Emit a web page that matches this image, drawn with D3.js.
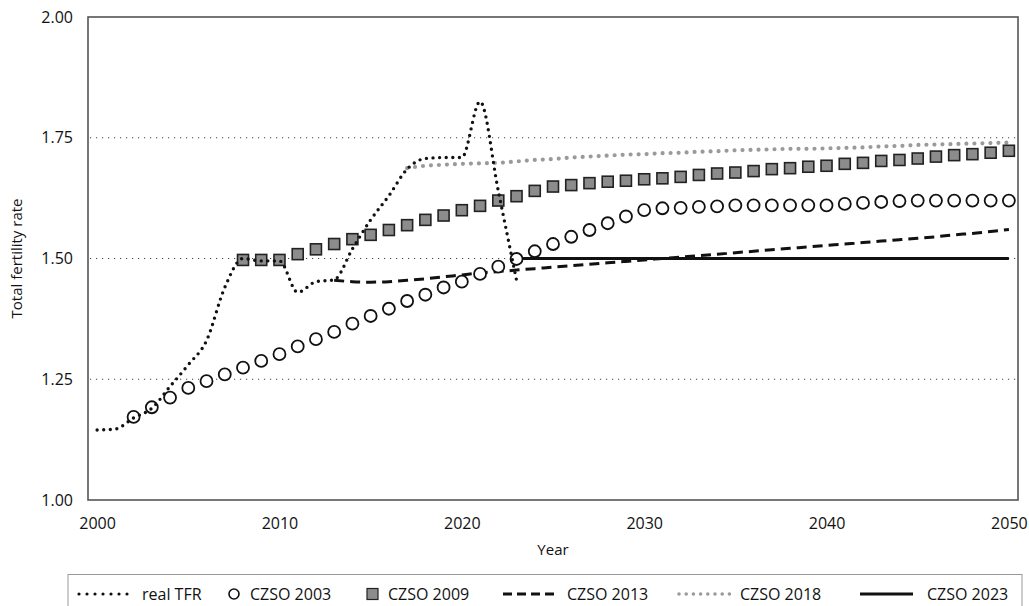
<!DOCTYPE html>
<html>
<head>
<meta charset="utf-8">
<script src="https://cdn.jsdelivr.net/npm/d3@7"></script>
<style>
  html, body { margin: 0; padding: 0; background: #fff; }
  svg { display: block; font-family: "Open Sans", "Noto Sans", sans-serif; }
</style>
</head>
<body>
<svg id="chart" width="1029" height="606"></svg>
<script>
// Years on the horizontal axis
const years = d3.range(2000, 2051);
const xTickYears = [2000, 2010, 2020, 2030, 2040, 2050];
const yTickValues = [1.00, 1.25, 1.50, 1.75, 2.00];

// Observed total fertility rate, 2000-2023
const realStart = 2000;
const realTFR = [1.145, 1.147, 1.17, 1.19, 1.235, 1.28, 1.33, 1.44, 1.50, 1.495,
                 1.495, 1.43, 1.452, 1.456, 1.52, 1.58, 1.63, 1.685, 1.707, 1.709,
                 1.709, 1.825, 1.64, 1.455];

// CZSO projection 2003, 2002-2050
const czso2003Start = 2002;
const czso2003 = [1.172, 1.192, 1.212, 1.232, 1.246, 1.26, 1.274, 1.288, 1.302,
                  1.318, 1.333, 1.348, 1.365, 1.381, 1.396, 1.412, 1.425, 1.44, 1.452,
                  1.468, 1.483, 1.499, 1.515, 1.53, 1.545, 1.559, 1.573, 1.587, 1.600,
                  1.604, 1.605, 1.607, 1.608, 1.61, 1.61, 1.61, 1.61, 1.61, 1.61,
                  1.613, 1.615, 1.617, 1.619, 1.62, 1.62, 1.62, 1.62, 1.62, 1.62];

// CZSO projection 2009, 2008-2050
const czso2009Start = 2008;
const czso2009 = [1.497, 1.497, 1.497, 1.509, 1.519, 1.53, 1.54, 1.549, 1.559, 1.569,
                  1.58, 1.589, 1.60, 1.609, 1.62, 1.629, 1.64, 1.649, 1.652, 1.656,
                  1.659, 1.661, 1.664, 1.666, 1.669, 1.673, 1.676, 1.678, 1.681, 1.685,
                  1.687, 1.69, 1.692, 1.696, 1.698, 1.702, 1.704, 1.707, 1.711, 1.714,
                  1.716, 1.719, 1.723];

// CZSO projection 2013, 2013-2050
const czso2013Start = 2013;
const czso2013 = [1.455, 1.452, 1.451, 1.452, 1.455, 1.458, 1.462, 1.466, 1.470, 1.473,
                  1.476, 1.479, 1.482, 1.485, 1.488, 1.491, 1.494, 1.497, 1.500, 1.503,
                  1.506, 1.509, 1.512, 1.515, 1.518, 1.521, 1.524, 1.527, 1.530, 1.533,
                  1.536, 1.539, 1.542, 1.545, 1.549, 1.552, 1.556, 1.560];

// CZSO projection 2018, 2017-2050
const czso2018Start = 2017;
const czso2018 = [1.687, 1.692, 1.694, 1.696, 1.697, 1.698, 1.701, 1.704, 1.706, 1.709,
                  1.711, 1.713, 1.715, 1.716, 1.718, 1.719, 1.721, 1.722, 1.724, 1.725,
                  1.726, 1.727, 1.727, 1.728, 1.729, 1.730, 1.732, 1.733, 1.735, 1.736,
                  1.737, 1.738, 1.739, 1.740];

// CZSO projection 2023, 2023-2050
const czso2023Start = 2023;
const czso2023 = [1.50, 1.50, 1.50, 1.50, 1.50, 1.50, 1.50, 1.50, 1.50, 1.50,
                  1.50, 1.50, 1.50, 1.50, 1.50, 1.50, 1.50, 1.50, 1.50, 1.50,
                  1.50, 1.50, 1.50, 1.50, 1.50, 1.50, 1.50, 1.50];

const toPoints = (start, values) => values.map((v, i) => ({ year: start + i, value: v }));

const svg = d3.select("#chart");
const plot = { left: 88, right: 1018, top: 17, bottom: 500 };

const x = d3.scalePoint().domain(years).range([plot.left, plot.right]).padding(0.5);
const y = d3.scaleLinear().domain([1, 2]).range([plot.bottom, plot.top]);

// Horizontal dotted gridlines
svg.append("g")
  .selectAll("line")
  .data(yTickValues.filter(v => v > 1 && v < 2))
  .join("line")
  .attr("x1", plot.left + 2).attr("x2", plot.right - 2)
  .attr("y1", d => y(d)).attr("y2", d => y(d))
  .attr("stroke", "#444").attr("stroke-width", 1)
  .attr("stroke-dasharray", "1.2 4.8");

// Axes (labels only)
const xAxis = svg.append("g")
  .attr("transform", `translate(0,${plot.bottom})`)
  .call(d3.axisBottom(x).tickValues(xTickYears).tickSize(0).tickPadding(18));
const yAxis = svg.append("g")
  .attr("transform", `translate(${plot.left},0)`)
  .call(d3.axisLeft(y).tickValues(yTickValues).tickFormat(d3.format(".2f")).tickSize(0).tickPadding(15));
[xAxis, yAxis].forEach(g => {
  g.select(".domain").remove();
  g.selectAll("text").attr("font-size", 16).attr("fill", "#111")
    .attr("font-family", "'Open Sans', sans-serif");
});

// Axis titles
svg.append("text")
  .attr("x", (plot.left + plot.right) / 2).attr("y", 555)
  .attr("text-anchor", "middle").attr("font-size", 15).attr("fill", "#111")
  .text("Year");
svg.append("text")
  .attr("transform", `translate(22,${(plot.top + plot.bottom) / 2}) rotate(-90)`)
  .attr("text-anchor", "middle").attr("font-size", 15).attr("fill", "#111")
  .text("Total fertility rate");

const line = d3.line().x(d => x(d.year)).y(d => y(d.value));
const smooth = d3.line().x(d => x(d.year)).y(d => y(d.value)).curve(d3.curveMonotoneX);

// CZSO 2013: dashed
svg.append("path")
  .datum(toPoints(czso2013Start, czso2013))
  .attr("d", smooth).attr("fill", "none")
  .attr("stroke", "#111").attr("stroke-width", 3)
  .attr("stroke-dasharray", "10 6");

// CZSO 2023: solid
svg.append("path")
  .datum(toPoints(czso2023Start, czso2023))
  .attr("d", line).attr("fill", "none")
  .attr("stroke", "#111").attr("stroke-width", 3);

// CZSO 2018: grey dotted
svg.append("path")
  .datum(toPoints(czso2018Start, czso2018))
  .attr("d", smooth).attr("fill", "none")
  .attr("stroke", "#9a9a9a").attr("stroke-width", 4.2)
  .attr("stroke-linecap", "round").attr("stroke-dasharray", "0 8");

// CZSO 2003: open circles
svg.append("g")
  .selectAll("circle")
  .data(toPoints(czso2003Start, czso2003))
  .join("circle")
  .attr("cx", d => x(d.year)).attr("cy", d => y(d.value)).attr("r", 6)
  .attr("fill", "#fff").attr("stroke", "#111").attr("stroke-width", 1.8);

// CZSO 2009: grey squares
const sq = 11;
svg.append("g")
  .selectAll("rect")
  .data(toPoints(czso2009Start, czso2009))
  .join("rect")
  .attr("x", d => x(d.year) - sq / 2).attr("y", d => y(d.value) - sq / 2)
  .attr("width", sq).attr("height", sq)
  .attr("fill", "#8c8c8c").attr("stroke", "#222").attr("stroke-width", 1.6);

// Observed TFR: black dotted
svg.append("path")
  .datum(toPoints(realStart, realTFR))
  .attr("d", smooth).attr("fill", "none")
  .attr("stroke", "#111").attr("stroke-width", 3.4)
  .attr("stroke-linecap", "round").attr("stroke-dasharray", "0 6.6");

// Plot frame
svg.append("rect")
  .attr("x", plot.left).attr("y", plot.top)
  .attr("width", plot.right - plot.left).attr("height", plot.bottom - plot.top)
  .attr("fill", "none").attr("stroke", "#555").attr("stroke-width", 1.6);

// Legend
const legendY = 594;
svg.append("rect")
  .attr("x", 68).attr("y", 574.5).attr("width", 954).attr("height", 60)
  .attr("fill", "none").attr("stroke", "#9a9a9a").attr("stroke-width", 1);

const legendItems = [
  { label: "real TFR", kind: "realDots", x0: 79, x1: 128, tx: 142 },
  { label: "CZSO 2003", kind: "circle", x0: 228, x1: 240, tx: 250 },
  { label: "CZSO 2009", kind: "square", x0: 367, x1: 378, tx: 388 },
  { label: "CZSO 2013", kind: "dash", x0: 503, x1: 554, tx: 567 },
  { label: "CZSO 2018", kind: "greyDots", x0: 679, x1: 730, tx: 740 },
  { label: "CZSO 2023", kind: "solid", x0: 860, x1: 913, tx: 927 }
];

const lg = svg.append("g");
legendItems.forEach(it => {
  if (it.kind === "circle") {
    lg.append("circle").attr("cx", (it.x0 + it.x1) / 2).attr("cy", legendY).attr("r", 5)
      .attr("fill", "#fff").attr("stroke", "#111").attr("stroke-width", 1.6);
  } else if (it.kind === "square") {
    lg.append("rect").attr("x", it.x0).attr("y", legendY - 5.5).attr("width", 11).attr("height", 11)
      .attr("fill", "#8c8c8c").attr("stroke", "#222").attr("stroke-width", 1.2);
  } else {
    const l = lg.append("line").attr("x1", it.x0).attr("x2", it.x1)
      .attr("y1", legendY).attr("y2", legendY);
    if (it.kind === "realDots") {
      l.attr("stroke", "#111").attr("stroke-width", 3.2).attr("stroke-linecap", "round")
        .attr("stroke-dasharray", "0 8");
    } else if (it.kind === "greyDots") {
      l.attr("stroke", "#9a9a9a").attr("stroke-width", 3.6).attr("stroke-linecap", "round")
        .attr("stroke-dasharray", "0 7.2");
    } else if (it.kind === "dash") {
      l.attr("stroke", "#111").attr("stroke-width", 3).attr("stroke-dasharray", "9 5");
    } else {
      l.attr("stroke", "#111").attr("stroke-width", 3);
    }
  }
  lg.append("text").attr("x", it.tx).attr("y", legendY).attr("dy", "0.35em")
    .attr("font-size", 16).attr("fill", "#111").text(it.label);
});
</script>
</body>
</html>
